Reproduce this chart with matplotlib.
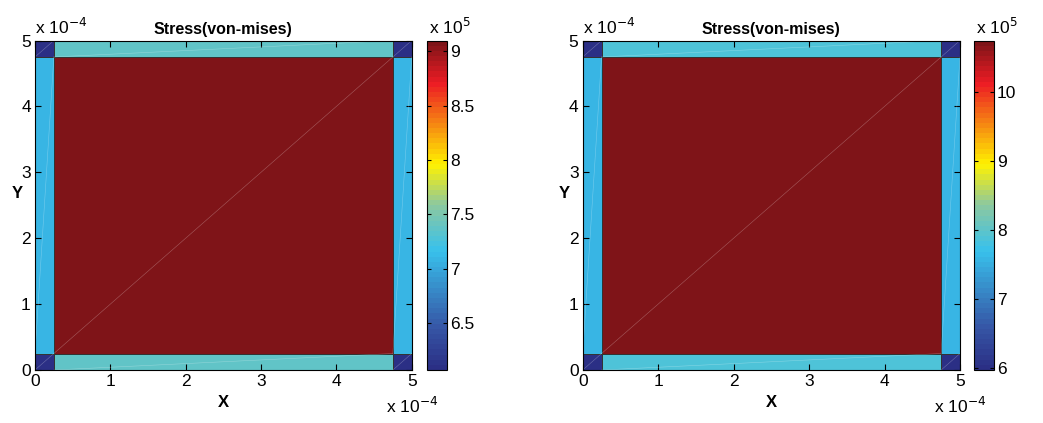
import numpy as np
import matplotlib
matplotlib.use('Agg')
import matplotlib.pyplot as plt
from matplotlib.colors import LinearSegmentedColormap
from matplotlib.ticker import FuncFormatter

plt.rcParams['font.family'] = ['Liberation Sans', 'DejaVu Sans']

# --- data ---
# node coordinates of the 3x3 element mesh (m)
x_nodes = [0.0, 0.25e-4, 4.75e-4, 5.0e-4]
y_nodes = [0.0, 0.25e-4, 4.75e-4, 5.0e-4]

# von-mises stress per element, rows bottom -> top
stress_left = [[6.07e5, 7.35e5, 6.07e5],
               [7.07e5, 9.10e5, 7.07e5],
               [6.07e5, 7.35e5, 6.07e5]]
stress_right = [[5.97e5, 7.9e5, 5.97e5],
                [7.60e5, 10.75e5, 7.60e5],
                [5.97e5, 7.9e5, 5.97e5]]

ticks_left = [6.5e5, 7e5, 7.5e5, 8e5, 8.5e5, 9e5]
ticks_right = [6e5, 7e5, 8e5, 9e5, 10e5]
axis_ticks = [0, 1e-4, 2e-4, 3e-4, 4e-4, 5e-4]

# printed-looking jet
jet_print = LinearSegmentedColormap.from_list('jet_print', [
    (0.0, '#2b2f85'),
    (0.125, '#3656a6'),
    (0.36, '#38c1ec'),
    (0.5, '#8cc8a0'),
    (0.625, '#fff200'),
    (0.875, '#ed1c24'),
    (1.0, '#7f1418'),
], N=64)

fig = plt.figure(figsize=(10.43, 4.23), dpi=100)
W, H = 1043.0, 423.0


def px_axes(x0, x1, y0, y1):
    return fig.add_axes([x0 / W, 1 - y1 / H, (x1 - x0) / W, (y1 - y0) / H])


def draw_panel(ax, cax, values, cticks, cfmt):
    C = np.array(values)
    mesh = ax.pcolormesh(x_nodes, y_nodes, C, cmap=jet_print,
                         vmin=C.min(), vmax=C.max(), shading='flat',
                         edgecolors='#333333', linewidth=0.5)
    # triangle diagonals of each element
    for i in range(len(x_nodes) - 1):
        for j in range(len(y_nodes) - 1):
            ax.plot([x_nodes[i], x_nodes[i + 1]], [y_nodes[j], y_nodes[j + 1]],
                    color='white', lw=0.4, alpha=0.3)
    ax.set_xlim(0, 5e-4)
    ax.set_ylim(0, 5e-4)
    ax.set_xticks(axis_ticks)
    ax.set_yticks(axis_ticks)
    fmt = FuncFormatter(lambda v, p: '%g' % round(v / 1e-4, 6))
    ax.xaxis.set_major_formatter(fmt)
    ax.yaxis.set_major_formatter(fmt)
    ax.tick_params(direction='in', top=True, right=True, length=4,
                   labelsize=12.5, pad=3)
    for s in ax.spines.values():
        s.set_linewidth(0.8)
    ax.set_title('Stress(von-mises)', fontsize=11.5, fontweight='bold', pad=5)
    ax.set_xlabel('X', fontsize=12, fontweight='bold', labelpad=4)
    ax.set_ylabel('Y', fontsize=12, fontweight='bold', rotation=0,
                  va='center', ha='center')
    ax.yaxis.set_label_coords(-0.048, 0.537)
    ax.text(0, 1.012, 'x 10$^{-4}$', transform=ax.transAxes, fontsize=12.5,
            ha='left', va='bottom')
    ax.text(1.0, -0.08, 'x 10$^{-4}$', transform=ax.transAxes, fontsize=12.5,
            ha='center', va='top')

    cb = fig.colorbar(mesh, cax=cax)
    cb.set_ticks(cticks)
    cb.ax.yaxis.set_major_formatter(FuncFormatter(cfmt))
    cb.ax.tick_params(direction='in', left=True, right=True, length=3,
                      labelsize=12.5, pad=2)
    cb.outline.set_linewidth(0.8)
    cb.ax.text(0.1, 1.012, 'x 10$^{5}$', transform=cb.ax.transAxes,
               fontsize=12.5, ha='left', va='bottom')


ax1 = px_axes(35, 411.7, 40.5, 370)
cax1 = px_axes(426.7, 447.3, 40.5, 370)
ax2 = px_axes(582.7, 960, 40.5, 370)
cax2 = px_axes(974.3, 994.3, 40.5, 370)

draw_panel(ax1, cax1, stress_left, ticks_left, lambda v, p: '%g' % round(v / 1e5, 3))
draw_panel(ax2, cax2, stress_right, ticks_right, lambda v, p: '%g' % round(v / 1e5, 3))

fig.savefig('out.png', dpi=100)
